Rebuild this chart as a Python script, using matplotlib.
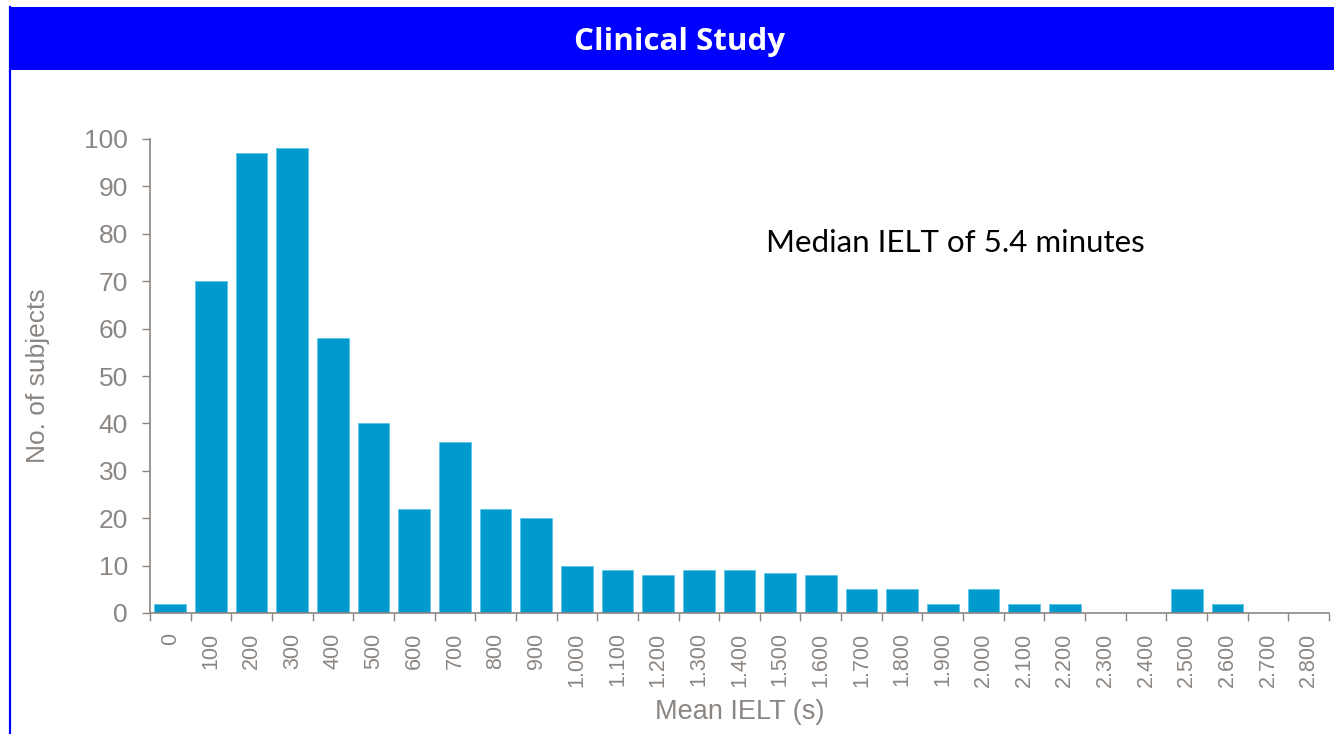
import matplotlib.pyplot as plt
from matplotlib.patches import Rectangle
from matplotlib.lines import Line2D

# histogram of mean IELT (bins of 100 s)
bins = [0, 100, 200, 300, 400, 500, 600, 700, 800, 900, 1000, 1100, 1200, 1300,
        1400, 1500, 1600, 1700, 1800, 1900, 2000, 2100, 2200, 2300, 2400, 2500,
        2600, 2700, 2800]
subjects = [2, 70, 97, 98, 58, 40, 22, 36, 22, 20, 10, 9, 8, 9,
            9, 8.4, 8, 5, 5, 2, 5, 2, 2, 0, 0, 5,
            2, 0, 0]
tick_labels = ['{:,}'.format(b).replace(',', '.') for b in bins]

title = 'Clinical Study'
note = 'Median IELT of 5.4 minutes'

grey = '#8c8682'
barcol = '#009acd'
W, H = 1334, 734

fig = plt.figure(figsize=(W / 100, H / 100), dpi=100)

# title banner + left border
fig.add_artist(Rectangle((9 / W, 1 - 70 / H), 1 - 9 / W, 63 / H,
                         transform=fig.transFigure, facecolor='#0000ff', edgecolor='none'))
fig.add_artist(Line2D([9.5 / W, 9.5 / W], [0, 1 - 7 / H], transform=fig.transFigure,
                      color='#0000ff', lw=1.6))
fig.text(680 / W, 1 - 42 / H, title, color='white', fontsize=22.5, fontweight='bold',
         family='Open Sans', ha='center', va='center')

ax = fig.add_axes([150 / W, 1 - 613 / H, (1329 - 150) / W, (613 - 139) / H])
x = list(range(len(bins)))
ax.bar(x, subjects, width=0.78, color=barcol, edgecolor='#5cc6ea', linewidth=0.6)

ax.set_xlim(-0.5, len(bins) - 0.5)
ax.set_ylim(0, 100)
ax.set_yticks(range(0, 101, 10))
ax.tick_params(axis='y', labelsize=19, colors=grey, length=6, width=1, pad=10)

ax.set_xticks([i - 0.5 for i in range(len(bins) + 1)])
ax.set_xticklabels([])
ax.set_xticks(x, minor=True)
ax.set_xticklabels(tick_labels, minor=True, rotation=90, fontsize=15.5, color=grey,
                   family='Liberation Sans')
ax.tick_params(axis='x', which='major', length=6, width=1, colors=grey)
ax.tick_params(axis='x', which='minor', length=0, pad=14)
for lab in ax.get_yticklabels():
    lab.set_family('Liberation Sans')

for s in ['top', 'right']:
    ax.spines[s].set_visible(False)
for s in ['left', 'bottom']:
    ax.spines[s].set_color(grey)
    ax.spines[s].set_linewidth(1.2)

ax.set_xlabel('Mean IELT (s)', fontsize=19.5, color=grey, family='Liberation Sans', labelpad=9)
ax.set_ylabel('No. of subjects', fontsize=19, color=grey, family='Liberation Sans')
ax.yaxis.set_label_coords(-(150 - 50) / (1329 - 150), 0.5)

fig.text(766 / W, 1 - 243 / H, note, fontsize=22.5, family='Lato', color='black',
         ha='left', va='center')

fig.savefig('out.png', dpi=100)
